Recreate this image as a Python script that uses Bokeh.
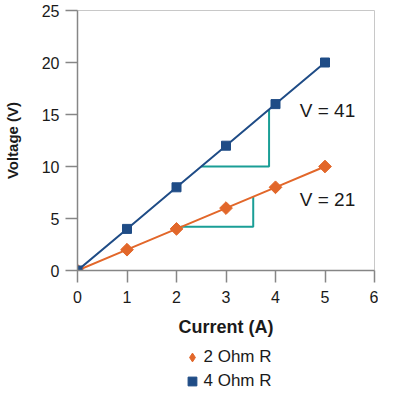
import math
from bokeh.plotting import figure
from bokeh.layouts import column
from bokeh.models import Range1d, Legend, LegendItem, FixedTicker, Label
from bokeh.embed import file_html
from bokeh.resources import INLINE

current = [0, 1, 2, 3, 4, 5]
v_2ohm = [0, 2, 4, 6, 8, 10]
v_4ohm = [0, 4, 8, 12, 16, 20]
x_ticks = [0, 1, 2, 3, 4, 5, 6]
y_ticks = [0, 5, 10, 15, 20, 25]
series_names = ["2 Ohm R", "4 Ohm R"]

# slope triangles (x, y)
tri_upper_x = [2.5, 3.87, 3.87]
tri_upper_y = [10.0, 10.0, 15.5]
tri_lower_x = [2.08, 3.55, 3.55]
tri_lower_y = [4.2, 4.2, 7.1]

labels_text = ["V = 41", "V = 21"]
labels_x = [4.49, 4.49]
labels_y = [15.4, 6.8]

BLUE = "#1F4C86"
ORANGE = "#E2672A"
TEAL = "#1A9E96"
FONT = "Liberation Sans"
TXT = "#1a1a1a"

p = figure(width=378, height=340, output_backend="svg", toolbar_location=None,
           x_range=Range1d(0, 6), y_range=Range1d(0, 25),
           min_border_left=72, min_border_right=4, min_border_top=10, min_border_bottom=70)

p.xgrid.visible = False
p.ygrid.visible = False
p.outline_line_color = "#C8C8C8"
p.outline_line_width = 1

for ax, ticks in ((p.xaxis[0], x_ticks), (p.yaxis[0], y_ticks)):
    ax.ticker = FixedTicker(ticks=ticks)
    ax.axis_line_color = "#868686"
    ax.axis_line_width = 1.5
    ax.major_tick_line_color = "#868686"
    ax.major_tick_line_width = 1.5
    ax.major_tick_out = 12
    ax.major_tick_in = 0
    ax.minor_tick_line_color = None
    ax.major_label_text_font = FONT
    ax.major_label_text_font_size = "16px"
    ax.major_label_text_color = TXT
    ax.axis_label_text_font = FONT
    ax.axis_label_text_font_style = "bold"
    ax.axis_label_text_color = TXT

p.xaxis.major_label_standoff = 8
p.yaxis.major_label_standoff = 6
p.xaxis.axis_label = "Current (A)"
p.yaxis.axis_label = "Voltage (V)"
p.xaxis.axis_label_text_font_size = "18px"
p.yaxis.axis_label_text_font_size = "15px"
p.xaxis.axis_label_standoff = 11
p.yaxis.axis_label_standoff = 18

# slope triangles
p.line(tri_upper_x, tri_upper_y, line_color=TEAL, line_width=2)
p.line(tri_lower_x, tri_lower_y, line_color=TEAL, line_width=2)

p.line(current, v_2ohm, line_color=ORANGE, line_width=2)
p.scatter(current, v_2ohm, marker="square", angle=math.pi / 4, size=9,
          fill_color=ORANGE, line_color=ORANGE)
p.line(current, v_4ohm, line_color=BLUE, line_width=2)
p.scatter(current, v_4ohm, marker="square", size=9, fill_color=BLUE, line_color=BLUE)

for t, x, y in zip(labels_text, labels_x, labels_y):
    p.add_layout(Label(x=x, y=y, text=t, text_font=FONT, text_font_size="19px",
                       text_color=TXT, text_baseline="middle"))

# legend strip below the chart (its glyphs sit outside its visible range)
p2 = figure(width=378, height=52, output_backend="svg", toolbar_location=None,
            x_axis_location=None, y_axis_location=None,
            x_range=Range1d(-20, -19), y_range=Range1d(-20, -19),
            min_border_left=72, min_border_right=4, min_border_top=0, min_border_bottom=0)
p2.xgrid.visible = False
p2.ygrid.visible = False
p2.outline_line_color = None
g2 = p2.scatter(current, v_2ohm, marker="diamond", size=9,
                fill_color=ORANGE, line_color=ORANGE)
g4 = p2.scatter(current, v_4ohm, marker="square", size=9, fill_color=BLUE, line_color=BLUE)

legend = Legend(items=[LegendItem(label=series_names[0], renderers=[g2]),
                       LegendItem(label=series_names[1], renderers=[g4])],
                location="top_center", orientation="vertical",
                label_text_font=FONT, label_text_font_size="17px", label_text_color=TXT,
                glyph_width=24, glyph_height=22, spacing=2, padding=0, margin=6,
                label_standoff=0, border_line_color=None, background_fill_alpha=0)
p2.add_layout(legend)

layout = column(p, p2, spacing=0)
open("out.html", "w").write(file_html(layout, INLINE))
